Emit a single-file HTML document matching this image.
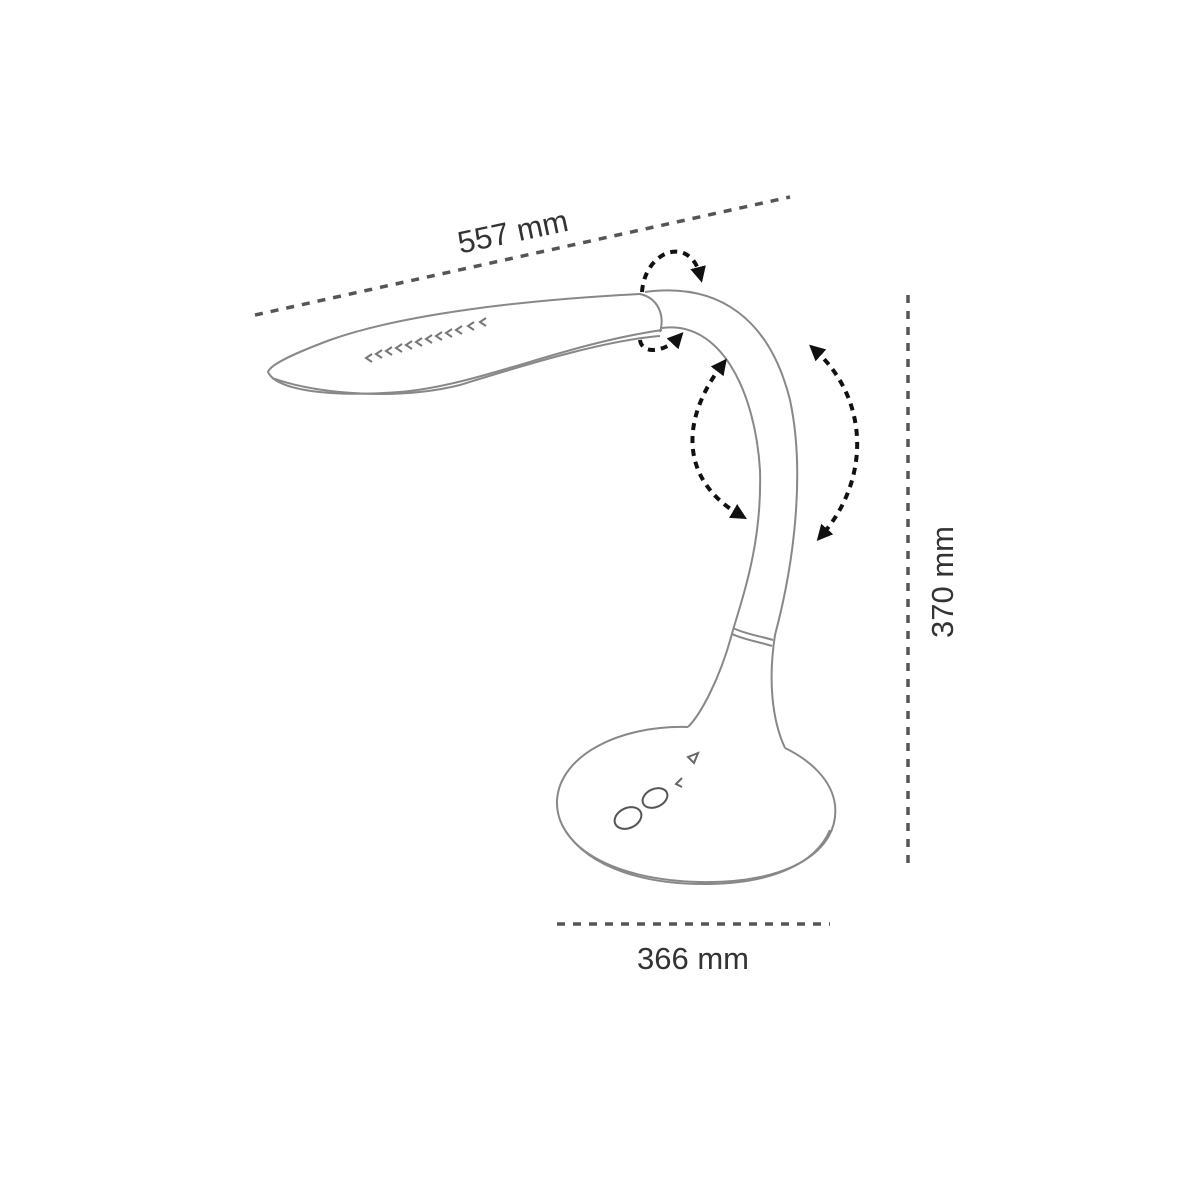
<!DOCTYPE html>
<html><head><meta charset="utf-8"><style>
html,body{margin:0;padding:0;background:#fff;}
svg{display:block}
text{font-family:"Liberation Sans",sans-serif;fill:#333;}
</style></head><body>
<svg width="1200" height="1200" viewBox="0 0 1200 1200" xmlns="http://www.w3.org/2000/svg">
<defs>
<marker id="ah" viewBox="0 0 10 10" refX="5" refY="5" markerWidth="4" markerHeight="4" orient="auto-start-reverse">
<path d="M0,0 L10,5 L0,10 Z" fill="#111"/>
</marker>
</defs>
<g stroke="#555" stroke-width="3.5" stroke-dasharray="8 8" fill="none">
<line x1="255" y1="315" x2="790" y2="197"/>
<line x1="908" y1="295" x2="908" y2="870"/>
<line x1="557" y1="924" x2="830" y2="924"/>
</g>
<text x="515" y="242" font-size="31" text-anchor="middle" transform="rotate(-12 515 242)">557 mm</text>
<text x="953" y="582" font-size="31" text-anchor="middle" transform="rotate(-90 953 582)">370 mm</text>
<text x="693" y="969" font-size="31" text-anchor="middle">366 mm</text>
<g stroke="#888" stroke-width="2" fill="none">
<path d="M640,294 C520,300 400,315 330,340 C290,355 270,365 268,372 C275,388 320,398 400,392 C480,385 560,345 662,330"/>
<path d="M272,378 C320,395 400,400 460,385 C540,360 610,340 660,336"/>
<path d="M640,294 C658,298 665,315 660,332"/>
<path d="M645,292 C720,282 770,320 790,400 C805,470 795,560 775,635 C768,680 772,720 785,748"/>
<path d="M662,328 C720,320 755,390 760,470 C762,540 745,590 733,630 C720,680 700,715 688,727"/>
<path d="M733,628 C745,634 760,636 773,640"/>
<path d="M732,634 C745,640 760,642 772,646"/>
<path d="M688,727 C620,725 560,755 557,800 C555,845 610,880 700,882 C790,884 840,850 835,805 C832,780 810,760 785,748"/>
<path d="M565,830 C590,870 650,885 710,884 C770,883 815,865 830,830"/>
<ellipse cx="628" cy="818" rx="14" ry="10" transform="rotate(-25 628 818)" stroke="#555"/>
<ellipse cx="655" cy="798" rx="13" ry="9" transform="rotate(-25 655 798)" stroke="#555"/>
<path d="M682,778 l-6,6 l6,3" stroke="#666"/>
<path d="M688,757 l10,-4 l-4,10 z" stroke="#666"/>
</g>
<g stroke="#777" stroke-width="2" fill="none">
<path d="M372,354 l-6,4 l6,4 M382,350 l-6,4 l6,4 M392,347 l-6,4 l6,4 M402,344 l-6,4 l6,4 M412,341 l-6,4 l6,4 M422,338 l-6,4 l6,4 M432,335 l-6,4 l6,4 M442,332 l-6,4 l6,4 M452,329 l-6,4 l6,4 M462,326 l-6,4 l6,4 M474,322 l-6,4 l6,4 M486,318 l-6,4 l6,4"/>
</g>
<g stroke="#111" stroke-width="4" stroke-dasharray="7 6" fill="none">
<path d="M642,292 C645,250 690,235 700,275" marker-end="url(#ah)"/>
<path d="M640,340 C642,355 665,352 678,338" marker-end="url(#ah)"/>
<path d="M722,365 C680,420 680,480 740,515" marker-start="url(#ah)" marker-end="url(#ah)"/>
<path d="M815,350 C870,400 870,480 822,535" marker-start="url(#ah)" marker-end="url(#ah)"/>
</g>
</svg>
</body></html>
